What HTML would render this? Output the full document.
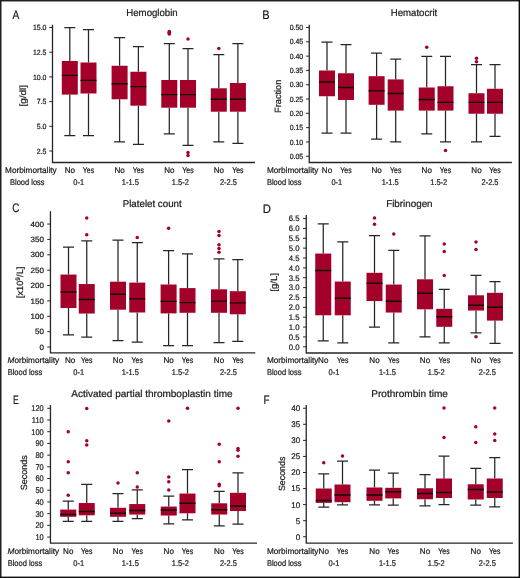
<!DOCTYPE html>
<html><head><meta charset="utf-8"><style>
html,body{margin:0;padding:0;background:#fff;}
svg{display:block;will-change:transform;}
text{font-family:"Liberation Sans", sans-serif;fill:#1a1a1a;stroke:#1a1a1a;stroke-width:0.22px;text-rendering:geometricPrecision;}
</style></head><body>
<svg width="520" height="578" viewBox="0 0 520 578">
<rect x="0" y="0" width="520" height="578" fill="#fff"/>
<g><text x="12.6" y="19" font-size="12.3" textLength="6.81" lengthAdjust="spacingAndGlyphs">A</text><text x="126.3" y="16" font-size="9.9" textLength="51.4" lengthAdjust="spacingAndGlyphs">Hemoglobin</text><g transform="translate(0 0)"><path d="M52.5 24.7V162.5H255" fill="none" stroke="#262626" stroke-width="1.3"/><text x="46.5" y="30.12" font-size="7.5" text-anchor="end" textLength="13.58" lengthAdjust="spacingAndGlyphs">15.0</text><text x="46.5" y="54.83" font-size="7.5" text-anchor="end" textLength="13.58" lengthAdjust="spacingAndGlyphs">12.5</text><text x="46.5" y="79.53" font-size="7.5" text-anchor="end" textLength="13.58" lengthAdjust="spacingAndGlyphs">10.0</text><text x="46.5" y="104.22" font-size="7.5" text-anchor="end" textLength="9.7" lengthAdjust="spacingAndGlyphs">7.5</text><text x="46.5" y="128.93" font-size="7.5" text-anchor="end" textLength="9.7" lengthAdjust="spacingAndGlyphs">5.0</text><text x="46.5" y="153.62" font-size="7.5" text-anchor="end" textLength="9.7" lengthAdjust="spacingAndGlyphs">2.5</text><path d="M49.3 27.5H52.5M49.3 52.2H52.5M49.3 76.9H52.5M49.3 101.6H52.5M49.3 126.3H52.5M49.3 151H52.5" stroke="#262626" stroke-width="1"/><text transform="translate(25.9 95.7) rotate(-90)" x="-10.8" y="0" font-size="9" textLength="21.6" lengthAdjust="spacingAndGlyphs">[g/dl]</text><path d="M69.8 27.5V61M69.8 94.6V135.6M64.3 27.5H75.3M64.3 135.6H75.3M88.5 29.5V62.5M88.5 93.5V135.6M83 29.5H94M83 135.6H94M119.6 37.5V65.75M119.6 99.3V141.9M114.1 37.5H125.1M114.1 141.9H125.1M138.4 46.5V71.75M138.4 105.7V144.4M132.9 46.5H143.9M132.9 144.4H143.9M169.3 43.6V80M169.3 107.7V133.8M163.8 43.6H174.8M163.8 133.8H174.8M188 48.5V80M188 107.7V145.4M182.5 48.5H193.5M182.5 145.4H193.5M218.8 54.6V88.3M218.8 111.7V141.9M213.3 54.6H224.3M213.3 141.9H224.3M237.9 43.7V83M237.9 111.7V143.3M232.4 43.7H243.4M232.4 143.3H243.4" fill="none" stroke="#262626" stroke-width="1.25"/><rect x="61.8" y="61" width="16" height="33.6" fill="#a3002a"/><rect x="80.5" y="62.5" width="16" height="31" fill="#a3002a"/><rect x="111.6" y="65.75" width="16" height="33.55" fill="#a3002a"/><rect x="130.4" y="71.75" width="16" height="33.95" fill="#a3002a"/><rect x="161.3" y="80" width="16" height="27.7" fill="#a3002a"/><rect x="180" y="80" width="16" height="27.7" fill="#a3002a"/><rect x="210.8" y="88.3" width="16" height="23.4" fill="#a3002a"/><rect x="229.9" y="83" width="16" height="28.7" fill="#a3002a"/><path d="M61.8 75.4H77.8M80.5 80.4H96.5M111.6 83.75H127.6M130.4 86.6H146.4M161.3 94.6H177.3M180 94.6H196M210.8 99.2H226.8M229.9 99.2H245.9" stroke="#120808" stroke-width="1.4"/><circle cx="169.3" cy="31.4" r="1.75" fill="#a3002a"/><circle cx="169.3" cy="32.3" r="1.75" fill="#a3002a"/><circle cx="169.3" cy="33.2" r="1.75" fill="#a3002a"/><circle cx="169.3" cy="34" r="1.75" fill="#a3002a"/><circle cx="188" cy="38.9" r="1.75" fill="#a3002a"/><circle cx="188" cy="152.6" r="1.75" fill="#a3002a"/><circle cx="188" cy="155.6" r="1.75" fill="#a3002a"/><circle cx="218.8" cy="48.5" r="1.75" fill="#a3002a"/></g><text x="5.1" y="173.1" font-size="8.3" textLength="51.5" lengthAdjust="spacingAndGlyphs">Morbimortality</text><text x="10" y="185" font-size="8.3" textLength="34.6" lengthAdjust="spacingAndGlyphs">Blood loss</text><text x="69.8" y="173.1" font-size="8.3" text-anchor="middle" textLength="10.3" lengthAdjust="spacingAndGlyphs">No</text><text x="88.5" y="173.1" font-size="8.3" text-anchor="middle" textLength="11.3" lengthAdjust="spacingAndGlyphs">Yes</text><text x="119.6" y="173.1" font-size="8.3" text-anchor="middle" textLength="10.3" lengthAdjust="spacingAndGlyphs">No</text><text x="138.4" y="173.1" font-size="8.3" text-anchor="middle" textLength="11.3" lengthAdjust="spacingAndGlyphs">Yes</text><text x="169.3" y="173.1" font-size="8.3" text-anchor="middle" textLength="10.3" lengthAdjust="spacingAndGlyphs">No</text><text x="188" y="173.1" font-size="8.3" text-anchor="middle" textLength="11.3" lengthAdjust="spacingAndGlyphs">Yes</text><text x="218.8" y="173.1" font-size="8.3" text-anchor="middle" textLength="10.3" lengthAdjust="spacingAndGlyphs">No</text><text x="237.9" y="173.1" font-size="8.3" text-anchor="middle" textLength="11.3" lengthAdjust="spacingAndGlyphs">Yes</text><text x="78.75" y="185" font-size="8.3" text-anchor="middle" textLength="10.8" lengthAdjust="spacingAndGlyphs">0-1</text><text x="130.35" y="185" font-size="8.3" text-anchor="middle" textLength="17" lengthAdjust="spacingAndGlyphs">1-1.5</text><text x="180.3" y="185" font-size="8.3" text-anchor="middle" textLength="17" lengthAdjust="spacingAndGlyphs">1.5-2</text><text x="228.45" y="185" font-size="8.3" text-anchor="middle" textLength="17" lengthAdjust="spacingAndGlyphs">2-2.5</text></g>
<g><text x="262.3" y="19" font-size="12.3" textLength="7.38" lengthAdjust="spacingAndGlyphs">B</text><text x="390.8" y="16" font-size="9.9" textLength="46.4" lengthAdjust="spacingAndGlyphs">Hematocrit</text><g transform="translate(0 0)"><path d="M309.25 24.7V162.5H511.9" fill="none" stroke="#262626" stroke-width="1.3"/><text x="303.25" y="30.12" font-size="7.5" text-anchor="end" textLength="13.58" lengthAdjust="spacingAndGlyphs">0.50</text><text x="303.25" y="44.43" font-size="7.5" text-anchor="end" textLength="13.58" lengthAdjust="spacingAndGlyphs">0.45</text><text x="303.25" y="58.74" font-size="7.5" text-anchor="end" textLength="13.58" lengthAdjust="spacingAndGlyphs">0.40</text><text x="303.25" y="73.04" font-size="7.5" text-anchor="end" textLength="13.58" lengthAdjust="spacingAndGlyphs">0.35</text><text x="303.25" y="87.35" font-size="7.5" text-anchor="end" textLength="13.58" lengthAdjust="spacingAndGlyphs">0.30</text><text x="303.25" y="101.65" font-size="7.5" text-anchor="end" textLength="13.58" lengthAdjust="spacingAndGlyphs">0.25</text><text x="303.25" y="115.96" font-size="7.5" text-anchor="end" textLength="13.58" lengthAdjust="spacingAndGlyphs">0.20</text><text x="303.25" y="130.26" font-size="7.5" text-anchor="end" textLength="13.58" lengthAdjust="spacingAndGlyphs">0.15</text><text x="303.25" y="144.57" font-size="7.5" text-anchor="end" textLength="13.58" lengthAdjust="spacingAndGlyphs">0.10</text><text x="303.25" y="158.88" font-size="7.5" text-anchor="end" textLength="13.58" lengthAdjust="spacingAndGlyphs">0.05</text><path d="M306.05 27.5H309.25M306.05 41.81H309.25M306.05 56.11H309.25M306.05 70.42H309.25M306.05 84.72H309.25M306.05 99.03H309.25M306.05 113.33H309.25M306.05 127.64H309.25M306.05 141.94H309.25M306.05 156.25H309.25" stroke="#262626" stroke-width="1"/><text transform="translate(281.4 96.3) rotate(-90)" x="-16.65" y="0" font-size="9" textLength="33.3" lengthAdjust="spacingAndGlyphs">Fraction</text><path d="M327 42V70.5M327 96.25V133M321.5 42H332.5M321.5 133H332.5M346 44.5V73.25M346 100V133M340.5 44.5H351.5M340.5 133H351.5M376.6 53V76.2M376.6 104.8V139M371.1 53H382.1M371.1 139H382.1M395.7 59V79.4M395.7 110.6V141.8M390.2 59H401.2M390.2 141.8H401.2M426.75 56.25V87.5M426.75 110.6V133.75M421.25 56.25H432.25M421.25 133.75H432.25M445.5 56.25V86.25M445.5 110.6V141.75M440 56.25H451M440 141.75H451M476.5 64.5V93.25M476.5 113.75V141.75M471 64.5H482M471 141.75H482M495 64.5V88.75M495 113.75V136.25M489.5 64.5H500.5M489.5 136.25H500.5" fill="none" stroke="#262626" stroke-width="1.25"/><rect x="319" y="70.5" width="16" height="25.75" fill="#a3002a"/><rect x="338" y="73.25" width="16" height="26.75" fill="#a3002a"/><rect x="368.6" y="76.2" width="16" height="28.6" fill="#a3002a"/><rect x="387.7" y="79.4" width="16" height="31.2" fill="#a3002a"/><rect x="418.75" y="87.5" width="16" height="23.1" fill="#a3002a"/><rect x="437.5" y="86.25" width="16" height="24.35" fill="#a3002a"/><rect x="468.5" y="93.25" width="16" height="20.5" fill="#a3002a"/><rect x="487" y="88.75" width="16" height="25" fill="#a3002a"/><path d="M319 82H335M338 87.5H354M368.6 90.9H384.6M387.7 93.5H403.7M418.75 99.5H434.75M437.5 102.4H453.5M468.5 102.4H484.5M487 102.4H503" stroke="#120808" stroke-width="1.4"/><circle cx="426.75" cy="47.25" r="1.75" fill="#a3002a"/><circle cx="445.5" cy="150.5" r="1.75" fill="#a3002a"/><circle cx="476.5" cy="58.3" r="1.75" fill="#a3002a"/><circle cx="476.5" cy="61.7" r="1.75" fill="#a3002a"/></g><text x="266.9" y="173.1" font-size="8.3" textLength="51.5" lengthAdjust="spacingAndGlyphs">Morbimortality</text><text x="266.9" y="185" font-size="8.3" textLength="34.6" lengthAdjust="spacingAndGlyphs">Blood loss</text><text x="327" y="173.1" font-size="8.3" text-anchor="middle" textLength="10.3" lengthAdjust="spacingAndGlyphs">No</text><text x="346" y="173.1" font-size="8.3" text-anchor="middle" textLength="11.3" lengthAdjust="spacingAndGlyphs">Yes</text><text x="376.6" y="173.1" font-size="8.3" text-anchor="middle" textLength="10.3" lengthAdjust="spacingAndGlyphs">No</text><text x="395.7" y="173.1" font-size="8.3" text-anchor="middle" textLength="11.3" lengthAdjust="spacingAndGlyphs">Yes</text><text x="426.75" y="173.1" font-size="8.3" text-anchor="middle" textLength="10.3" lengthAdjust="spacingAndGlyphs">No</text><text x="445.5" y="173.1" font-size="8.3" text-anchor="middle" textLength="11.3" lengthAdjust="spacingAndGlyphs">Yes</text><text x="476.5" y="173.1" font-size="8.3" text-anchor="middle" textLength="10.3" lengthAdjust="spacingAndGlyphs">No</text><text x="495" y="173.1" font-size="8.3" text-anchor="middle" textLength="11.3" lengthAdjust="spacingAndGlyphs">Yes</text><text x="336.8" y="185" font-size="8.3" text-anchor="middle" textLength="10.8" lengthAdjust="spacingAndGlyphs">0-1</text><text x="390.2" y="185" font-size="8.3" text-anchor="middle" textLength="17" lengthAdjust="spacingAndGlyphs">1-1.5</text><text x="438.75" y="185" font-size="8.3" text-anchor="middle" textLength="17" lengthAdjust="spacingAndGlyphs">1.5-2</text><text x="490" y="185" font-size="8.3" text-anchor="middle" textLength="17" lengthAdjust="spacingAndGlyphs">2-2.5</text></g>
<g><text x="12.2" y="212" font-size="12.3" textLength="7.11" lengthAdjust="spacingAndGlyphs">C</text><text x="122.7" y="207.1" font-size="9.9" textLength="59" lengthAdjust="spacingAndGlyphs">Platelet count</text><g transform="translate(0 0.3)"><path d="M50.45 210.9V352.6H255.3" fill="none" stroke="#262626" stroke-width="1.3"/><text x="44.05" y="226.44" font-size="7.7" text-anchor="end" textLength="13.49" lengthAdjust="spacingAndGlyphs">400</text><text x="44.05" y="241.82" font-size="7.7" text-anchor="end" textLength="13.49" lengthAdjust="spacingAndGlyphs">350</text><text x="44.05" y="257.19" font-size="7.7" text-anchor="end" textLength="13.49" lengthAdjust="spacingAndGlyphs">300</text><text x="44.05" y="272.57" font-size="7.7" text-anchor="end" textLength="13.49" lengthAdjust="spacingAndGlyphs">250</text><text x="44.05" y="287.94" font-size="7.7" text-anchor="end" textLength="13.49" lengthAdjust="spacingAndGlyphs">200</text><text x="44.05" y="303.32" font-size="7.7" text-anchor="end" textLength="13.49" lengthAdjust="spacingAndGlyphs">150</text><text x="44.05" y="318.69" font-size="7.7" text-anchor="end" textLength="13.49" lengthAdjust="spacingAndGlyphs">100</text><text x="44.05" y="334.07" font-size="7.7" text-anchor="end" textLength="8.99" lengthAdjust="spacingAndGlyphs">50</text><text x="44.05" y="349.44" font-size="7.7" text-anchor="end" textLength="4.5" lengthAdjust="spacingAndGlyphs">0</text><path d="M47.25 223.75H50.45M47.25 239.12H50.45M47.25 254.5H50.45M47.25 269.88H50.45M47.25 285.25H50.45M47.25 300.62H50.45M47.25 316H50.45M47.25 331.38H50.45M47.25 346.75H50.45" stroke="#262626" stroke-width="1"/><text transform="translate(23 282.1) rotate(-90)" x="-15.8" y="0" font-size="9" textLength="31.6" lengthAdjust="spacingAndGlyphs">[x10<tspan dy="-3" font-size="6.4">9</tspan><tspan dy="3">/L]</tspan></text><path d="M68.5 246.75V274.25M68.5 307.75V334.5M63 246.75H74M63 334.5H74M86.75 240.5V283.75M86.75 313.25V336.75M81.25 240.5H92.25M81.25 336.75H92.25M118 239.75V281.4M118 309.4V340.25M112.5 239.75H123.5M112.5 340.25H123.5M137.25 242.25V282.3M137.25 312.2V341.7M131.75 242.25H142.75M131.75 341.7H142.75M168.6 250.25V284.2M168.6 313.1V345.4M163.1 250.25H174.1M163.1 345.4H174.1M187.5 253.5V287.8M187.5 312.5V345.4M182 253.5H193M182 345.4H193M219 258.5V289M219 312.5V342.3M213.5 258.5H224.5M213.5 342.3H224.5M237.8 259.25V290.9M237.8 314V341M232.3 259.25H243.3M232.3 341H243.3" fill="none" stroke="#262626" stroke-width="1.25"/><rect x="60.5" y="274.25" width="16" height="33.5" fill="#a3002a"/><rect x="78.75" y="283.75" width="16" height="29.5" fill="#a3002a"/><rect x="110" y="281.4" width="16" height="28" fill="#a3002a"/><rect x="129.25" y="282.3" width="16" height="29.9" fill="#a3002a"/><rect x="160.6" y="284.2" width="16" height="28.9" fill="#a3002a"/><rect x="179.5" y="287.8" width="16" height="24.7" fill="#a3002a"/><rect x="211" y="289" width="16" height="23.5" fill="#a3002a"/><rect x="229.8" y="290.9" width="16" height="23.1" fill="#a3002a"/><path d="M60.5 291.75H76.5M78.75 299.25H94.75M110 294H126M129.25 298.6H145.25M160.6 301.1H176.6M179.5 302.3H195.5M211 300.8H227M229.8 302.6H245.8" stroke="#120808" stroke-width="1.4"/><circle cx="86.75" cy="217.75" r="1.75" fill="#a3002a"/><circle cx="86.75" cy="234.5" r="1.75" fill="#a3002a"/><circle cx="137.25" cy="237.25" r="1.75" fill="#a3002a"/><circle cx="168.6" cy="228" r="1.75" fill="#a3002a"/><circle cx="219" cy="231.25" r="1.75" fill="#a3002a"/><circle cx="219" cy="235.25" r="1.75" fill="#a3002a"/><circle cx="219" cy="244.5" r="1.75" fill="#a3002a"/><circle cx="219" cy="248.25" r="1.75" fill="#a3002a"/><circle cx="219" cy="252" r="1.75" fill="#a3002a"/></g><text x="7.6" y="363.1" font-size="8.3" textLength="51.5" lengthAdjust="spacingAndGlyphs"><tspan font-style="italic">M</tspan>orbimortality</text><text x="7.7" y="375.4" font-size="8.3" textLength="34.6" lengthAdjust="spacingAndGlyphs">Blood loss</text><text x="70.2" y="363.1" font-size="8.3" text-anchor="middle" textLength="10.3" lengthAdjust="spacingAndGlyphs">No</text><text x="86.75" y="363.1" font-size="8.3" text-anchor="middle" textLength="11.3" lengthAdjust="spacingAndGlyphs">Yes</text><text x="118" y="363.1" font-size="8.3" text-anchor="middle" textLength="10.3" lengthAdjust="spacingAndGlyphs">No</text><text x="137.25" y="363.1" font-size="8.3" text-anchor="middle" textLength="11.3" lengthAdjust="spacingAndGlyphs">Yes</text><text x="168.6" y="363.1" font-size="8.3" text-anchor="middle" textLength="10.3" lengthAdjust="spacingAndGlyphs">No</text><text x="187.5" y="363.1" font-size="8.3" text-anchor="middle" textLength="11.3" lengthAdjust="spacingAndGlyphs">Yes</text><text x="219" y="363.1" font-size="8.3" text-anchor="middle" textLength="10.3" lengthAdjust="spacingAndGlyphs">No</text><text x="237.8" y="363.1" font-size="8.3" text-anchor="middle" textLength="11.3" lengthAdjust="spacingAndGlyphs">Yes</text><text x="78.75" y="375.4" font-size="8.3" text-anchor="middle" textLength="10.8" lengthAdjust="spacingAndGlyphs">0-1</text><text x="130.35" y="375.4" font-size="8.3" text-anchor="middle" textLength="17" lengthAdjust="spacingAndGlyphs">1-1.5</text><text x="180.3" y="375.4" font-size="8.3" text-anchor="middle" textLength="17" lengthAdjust="spacingAndGlyphs">1.5-2</text><text x="228.45" y="375.4" font-size="8.3" text-anchor="middle" textLength="17" lengthAdjust="spacingAndGlyphs">2-2.5</text></g>
<g><text x="262.7" y="213" font-size="12.3" textLength="8.17" lengthAdjust="spacingAndGlyphs">D</text><text x="386.2" y="207" font-size="9.9" textLength="46.4" lengthAdjust="spacingAndGlyphs">Fibrinogen</text><g transform="translate(0 0.3)"><path d="M306.25 214.7V352.7H512.9" fill="none" stroke="#262626" stroke-width="1.3"/><text x="299.45" y="221.05" font-size="8" text-anchor="end" textLength="10.79" lengthAdjust="spacingAndGlyphs">6.5</text><text x="299.45" y="230.92" font-size="8" text-anchor="end" textLength="10.79" lengthAdjust="spacingAndGlyphs">6.0</text><text x="299.45" y="240.78" font-size="8" text-anchor="end" textLength="10.79" lengthAdjust="spacingAndGlyphs">5.5</text><text x="299.45" y="250.65" font-size="8" text-anchor="end" textLength="10.79" lengthAdjust="spacingAndGlyphs">5.0</text><text x="299.45" y="260.51" font-size="8" text-anchor="end" textLength="10.79" lengthAdjust="spacingAndGlyphs">4.5</text><text x="299.45" y="270.38" font-size="8" text-anchor="end" textLength="10.79" lengthAdjust="spacingAndGlyphs">4.0</text><text x="299.45" y="280.24" font-size="8" text-anchor="end" textLength="10.79" lengthAdjust="spacingAndGlyphs">3.5</text><text x="299.45" y="290.11" font-size="8" text-anchor="end" textLength="10.79" lengthAdjust="spacingAndGlyphs">3.0</text><text x="299.45" y="299.97" font-size="8" text-anchor="end" textLength="10.79" lengthAdjust="spacingAndGlyphs">2.5</text><text x="299.45" y="309.84" font-size="8" text-anchor="end" textLength="10.79" lengthAdjust="spacingAndGlyphs">2.0</text><text x="299.45" y="319.7" font-size="8" text-anchor="end" textLength="10.79" lengthAdjust="spacingAndGlyphs">1.5</text><text x="299.45" y="329.57" font-size="8" text-anchor="end" textLength="10.79" lengthAdjust="spacingAndGlyphs">1.0</text><text x="299.45" y="339.43" font-size="8" text-anchor="end" textLength="10.79" lengthAdjust="spacingAndGlyphs">0.5</text><text x="299.45" y="349.3" font-size="8" text-anchor="end" textLength="10.79" lengthAdjust="spacingAndGlyphs">0.0</text><path d="M303.05 218.25H306.25M303.05 228.12H306.25M303.05 237.98H306.25M303.05 247.85H306.25M303.05 257.71H306.25M303.05 267.58H306.25M303.05 277.44H306.25M303.05 287.31H306.25M303.05 297.17H306.25M303.05 307.04H306.25M303.05 316.9H306.25M303.05 326.77H306.25M303.05 336.63H306.25M303.05 346.5H306.25" stroke="#262626" stroke-width="1"/><text transform="translate(277.1 282.05) rotate(-90)" x="-9.2" y="0" font-size="9" textLength="18.4" lengthAdjust="spacingAndGlyphs">[g/L]</text><path d="M323.25 223.5V253.25M323.25 315V340.5M317.75 223.5H328.75M317.75 340.5H328.75M342.75 241.5V281.25M342.75 315V342.5M337.25 241.5H348.25M337.25 342.5H348.25M374.5 235.25V272.5M374.5 300.75V326.75M369 235.25H380M369 326.75H380M393.75 250V284.25M393.75 312.25V342.5M388.25 250H399.25M388.25 342.5H399.25M425 235.5V279M425 309V336.5M419.5 235.5H430.5M419.5 336.5H430.5M444.25 289V308.5M444.25 326.5V342.5M438.75 289H449.75M438.75 342.5H449.75M476 275V295M476 310.25V332.5M470.5 275H481.5M470.5 332.5H481.5M495 281.25V292.5M495 320.3V343M489.5 281.25H500.5M489.5 343H500.5" fill="none" stroke="#262626" stroke-width="1.25"/><rect x="315.25" y="253.25" width="16" height="61.75" fill="#a3002a"/><rect x="334.75" y="281.25" width="16" height="33.75" fill="#a3002a"/><rect x="366.5" y="272.5" width="16" height="28.25" fill="#a3002a"/><rect x="385.75" y="284.25" width="16" height="28" fill="#a3002a"/><rect x="417" y="279" width="16" height="30" fill="#a3002a"/><rect x="436.25" y="308.5" width="16" height="18" fill="#a3002a"/><rect x="468" y="295" width="16" height="15.25" fill="#a3002a"/><rect x="487" y="292.5" width="16" height="27.8" fill="#a3002a"/><path d="M315.25 270.25H331.25M334.75 298H350.75M366.5 283H382.5M385.75 301H401.75M417 293H433M436.25 316.5H452.25M468 305H484M487 306.9H503" stroke="#120808" stroke-width="1.4"/><circle cx="374.5" cy="217.75" r="1.75" fill="#a3002a"/><circle cx="374.5" cy="224" r="1.75" fill="#a3002a"/><circle cx="393.75" cy="233.75" r="1.75" fill="#a3002a"/><circle cx="444.25" cy="243.75" r="1.75" fill="#a3002a"/><circle cx="444.25" cy="251.25" r="1.75" fill="#a3002a"/><circle cx="444.25" cy="275.25" r="1.75" fill="#a3002a"/><circle cx="476" cy="241.75" r="1.75" fill="#a3002a"/><circle cx="476" cy="249.25" r="1.75" fill="#a3002a"/><circle cx="476" cy="336.5" r="1.75" fill="#a3002a"/></g><text x="266.9" y="363.1" font-size="8.3" textLength="51.5" lengthAdjust="spacingAndGlyphs">Morbimortality</text><text x="266.9" y="375.4" font-size="8.3" textLength="34.6" lengthAdjust="spacingAndGlyphs">Blood loss</text><text x="323.25" y="363.1" font-size="8.3" text-anchor="middle" textLength="10.3" lengthAdjust="spacingAndGlyphs">No</text><text x="342.75" y="363.1" font-size="8.3" text-anchor="middle" textLength="11.3" lengthAdjust="spacingAndGlyphs">Yes</text><text x="374.5" y="363.1" font-size="8.3" text-anchor="middle" textLength="10.3" lengthAdjust="spacingAndGlyphs">No</text><text x="393.75" y="363.1" font-size="8.3" text-anchor="middle" textLength="11.3" lengthAdjust="spacingAndGlyphs">Yes</text><text x="425" y="363.1" font-size="8.3" text-anchor="middle" textLength="10.3" lengthAdjust="spacingAndGlyphs">No</text><text x="444.25" y="363.1" font-size="8.3" text-anchor="middle" textLength="11.3" lengthAdjust="spacingAndGlyphs">Yes</text><text x="476" y="363.1" font-size="8.3" text-anchor="middle" textLength="10.3" lengthAdjust="spacingAndGlyphs">No</text><text x="495" y="363.1" font-size="8.3" text-anchor="middle" textLength="11.3" lengthAdjust="spacingAndGlyphs">Yes</text><text x="334" y="375.4" font-size="8.3" text-anchor="middle" textLength="10.8" lengthAdjust="spacingAndGlyphs">0-1</text><text x="387.4" y="375.4" font-size="8.3" text-anchor="middle" textLength="17" lengthAdjust="spacingAndGlyphs">1-1.5</text><text x="436.25" y="375.4" font-size="8.3" text-anchor="middle" textLength="17" lengthAdjust="spacingAndGlyphs">1.5-2</text><text x="487.3" y="375.4" font-size="8.3" text-anchor="middle" textLength="17" lengthAdjust="spacingAndGlyphs">2-2.5</text></g>
<g><text x="12.9" y="404" font-size="12.3" textLength="5.74" lengthAdjust="spacingAndGlyphs">E</text><text x="71.25" y="397.1" font-size="9.9" textLength="161.3" lengthAdjust="spacingAndGlyphs">Activated partial thromboplastin time</text><g transform="translate(0 0.3)"><path d="M50.45 404.7V542.9H257" fill="none" stroke="#262626" stroke-width="1.3"/><text x="43.75" y="410.9" font-size="8.3" text-anchor="end" textLength="12.46" lengthAdjust="spacingAndGlyphs">120</text><text x="43.75" y="422.61" font-size="8.3" text-anchor="end" textLength="11.91" lengthAdjust="spacingAndGlyphs">110</text><text x="43.75" y="434.31" font-size="8.3" text-anchor="end" textLength="12.46" lengthAdjust="spacingAndGlyphs">100</text><text x="43.75" y="446.02" font-size="8.3" text-anchor="end" textLength="8.31" lengthAdjust="spacingAndGlyphs">90</text><text x="43.75" y="457.72" font-size="8.3" text-anchor="end" textLength="8.31" lengthAdjust="spacingAndGlyphs">80</text><text x="43.75" y="469.43" font-size="8.3" text-anchor="end" textLength="8.31" lengthAdjust="spacingAndGlyphs">70</text><text x="43.75" y="481.13" font-size="8.3" text-anchor="end" textLength="8.31" lengthAdjust="spacingAndGlyphs">60</text><text x="43.75" y="492.84" font-size="8.3" text-anchor="end" textLength="8.31" lengthAdjust="spacingAndGlyphs">50</text><text x="43.75" y="504.54" font-size="8.3" text-anchor="end" textLength="8.31" lengthAdjust="spacingAndGlyphs">40</text><text x="43.75" y="516.25" font-size="8.3" text-anchor="end" textLength="8.31" lengthAdjust="spacingAndGlyphs">30</text><text x="43.75" y="527.95" font-size="8.3" text-anchor="end" textLength="8.31" lengthAdjust="spacingAndGlyphs">20</text><text x="43.75" y="539.65" font-size="8.3" text-anchor="end" textLength="8.31" lengthAdjust="spacingAndGlyphs">10</text><path d="M47.25 408H50.45M47.25 419.7H50.45M47.25 431.41H50.45M47.25 443.11H50.45M47.25 454.82H50.45M47.25 466.52H50.45M47.25 478.23H50.45M47.25 489.93H50.45M47.25 501.64H50.45M47.25 513.34H50.45M47.25 525.05H50.45M47.25 536.75H50.45" stroke="#262626" stroke-width="1"/><text transform="translate(27 472.45) rotate(-90)" x="-17.4" y="0" font-size="9" textLength="34.8" lengthAdjust="spacingAndGlyphs">Seconds</text><path d="M68.25 500.75V509.25M68.25 516.5V521M62.75 500.75H73.75M62.75 521H73.75M86.75 484V502.75M86.75 515V521M81.25 484H92.25M81.25 521H92.25M118 493.25V507.5M118 516.5V521M112.5 493.25H123.5M112.5 521H123.5M137.25 489.5V503.75M137.25 514.25V518.25M131.75 489.5H142.75M131.75 518.25H142.75M168.75 495.75V506.25M168.75 515.25V523.5M163.25 495.75H174.25M163.25 523.5H174.25M187.5 469.25V493.25M187.5 513V519.5M182 469.25H193M182 519.5H193M219.25 491V503M219.25 514.25V525.5M213.75 491H224.75M213.75 525.5H224.75M238 472.5V492.5M238 510.75V523.75M232.5 472.5H243.5M232.5 523.75H243.5" fill="none" stroke="#262626" stroke-width="1.25"/><rect x="60.25" y="509.25" width="16" height="7.25" fill="#a3002a"/><rect x="78.75" y="502.75" width="16" height="12.25" fill="#a3002a"/><rect x="110" y="507.5" width="16" height="9" fill="#a3002a"/><rect x="129.25" y="503.75" width="16" height="10.5" fill="#a3002a"/><rect x="160.75" y="506.25" width="16" height="9" fill="#a3002a"/><rect x="179.5" y="493.25" width="16" height="19.75" fill="#a3002a"/><rect x="211.25" y="503" width="16" height="11.25" fill="#a3002a"/><rect x="230" y="492.5" width="16" height="18.25" fill="#a3002a"/><path d="M60.25 514.25H76.25M78.75 511.25H94.75M110 513H126M129.25 510.25H145.25M160.75 509.75H176.75M179.5 503H195.5M211.25 509.5H227.25M230 505.75H246" stroke="#120808" stroke-width="1.4"/><circle cx="68.25" cy="431.5" r="1.75" fill="#a3002a"/><circle cx="68.25" cy="461.5" r="1.75" fill="#a3002a"/><circle cx="68.25" cy="472.5" r="1.75" fill="#a3002a"/><circle cx="68.25" cy="495" r="1.75" fill="#a3002a"/><circle cx="86.75" cy="408.25" r="1.75" fill="#a3002a"/><circle cx="86.75" cy="440.5" r="1.75" fill="#a3002a"/><circle cx="86.75" cy="444.75" r="1.75" fill="#a3002a"/><circle cx="118" cy="482.75" r="1.75" fill="#a3002a"/><circle cx="137.25" cy="472.5" r="1.75" fill="#a3002a"/><circle cx="137.25" cy="486.75" r="1.75" fill="#a3002a"/><circle cx="168.75" cy="420.75" r="1.75" fill="#a3002a"/><circle cx="168.75" cy="476.75" r="1.75" fill="#a3002a"/><circle cx="168.75" cy="481.5" r="1.75" fill="#a3002a"/><circle cx="168.75" cy="489.75" r="1.75" fill="#a3002a"/><circle cx="187.5" cy="408" r="1.75" fill="#a3002a"/><circle cx="219.25" cy="444" r="1.75" fill="#a3002a"/><circle cx="219.25" cy="461.5" r="1.75" fill="#a3002a"/><circle cx="219.25" cy="484" r="1.75" fill="#a3002a"/><circle cx="219.25" cy="485.5" r="1.75" fill="#a3002a"/><circle cx="238" cy="408" r="1.75" fill="#a3002a"/><circle cx="238" cy="448.25" r="1.75" fill="#a3002a"/><circle cx="238" cy="450" r="1.75" fill="#a3002a"/><circle cx="238" cy="456" r="1.75" fill="#a3002a"/></g><text x="7.6" y="553.5" font-size="8.3" textLength="51.5" lengthAdjust="spacingAndGlyphs"><tspan font-style="italic">M</tspan>orbimortality</text><text x="7.7" y="565.7" font-size="8.3" textLength="34.6" lengthAdjust="spacingAndGlyphs">Blood loss</text><text x="68.25" y="553.5" font-size="8.3" text-anchor="middle" textLength="10.3" lengthAdjust="spacingAndGlyphs">No</text><text x="86.75" y="553.5" font-size="8.3" text-anchor="middle" textLength="11.3" lengthAdjust="spacingAndGlyphs">Yes</text><text x="118" y="553.5" font-size="8.3" text-anchor="middle" textLength="10.3" lengthAdjust="spacingAndGlyphs">No</text><text x="137.25" y="553.5" font-size="8.3" text-anchor="middle" textLength="11.3" lengthAdjust="spacingAndGlyphs">Yes</text><text x="168.75" y="553.5" font-size="8.3" text-anchor="middle" textLength="10.3" lengthAdjust="spacingAndGlyphs">No</text><text x="187.5" y="553.5" font-size="8.3" text-anchor="middle" textLength="11.3" lengthAdjust="spacingAndGlyphs">Yes</text><text x="219.25" y="553.5" font-size="8.3" text-anchor="middle" textLength="10.3" lengthAdjust="spacingAndGlyphs">No</text><text x="238" y="553.5" font-size="8.3" text-anchor="middle" textLength="11.3" lengthAdjust="spacingAndGlyphs">Yes</text><text x="78.75" y="565.7" font-size="8.3" text-anchor="middle" textLength="10.8" lengthAdjust="spacingAndGlyphs">0-1</text><text x="130.35" y="565.7" font-size="8.3" text-anchor="middle" textLength="17" lengthAdjust="spacingAndGlyphs">1-1.5</text><text x="180.3" y="565.7" font-size="8.3" text-anchor="middle" textLength="17" lengthAdjust="spacingAndGlyphs">1.5-2</text><text x="228.45" y="565.7" font-size="8.3" text-anchor="middle" textLength="17" lengthAdjust="spacingAndGlyphs">2-2.5</text></g>
<g><text x="263.5" y="404" font-size="12.3" textLength="6.01" lengthAdjust="spacingAndGlyphs">F</text><text x="371.23" y="397.1" font-size="9.9" textLength="76.75" lengthAdjust="spacingAndGlyphs">Prothrombin time</text><g transform="translate(0 0)"><path d="M306.25 405V543.2H512.9" fill="none" stroke="#262626" stroke-width="1.3"/><text x="300.25" y="411.12" font-size="8.2" text-anchor="end" textLength="8.94" lengthAdjust="spacingAndGlyphs">40</text><text x="300.25" y="427.18" font-size="8.2" text-anchor="end" textLength="8.94" lengthAdjust="spacingAndGlyphs">35</text><text x="300.25" y="443.25" font-size="8.2" text-anchor="end" textLength="8.94" lengthAdjust="spacingAndGlyphs">30</text><text x="300.25" y="459.31" font-size="8.2" text-anchor="end" textLength="8.94" lengthAdjust="spacingAndGlyphs">25</text><text x="300.25" y="475.37" font-size="8.2" text-anchor="end" textLength="8.94" lengthAdjust="spacingAndGlyphs">20</text><text x="300.25" y="491.43" font-size="8.2" text-anchor="end" textLength="8.94" lengthAdjust="spacingAndGlyphs">15</text><text x="300.25" y="507.5" font-size="8.2" text-anchor="end" textLength="8.94" lengthAdjust="spacingAndGlyphs">10</text><text x="300.25" y="523.56" font-size="8.2" text-anchor="end" textLength="4.47" lengthAdjust="spacingAndGlyphs">5</text><text x="300.25" y="539.62" font-size="8.2" text-anchor="end" textLength="4.47" lengthAdjust="spacingAndGlyphs">0</text><path d="M303.05 408.25H306.25M303.05 424.31H306.25M303.05 440.38H306.25M303.05 456.44H306.25M303.05 472.5H306.25M303.05 488.56H306.25M303.05 504.62H306.25M303.05 520.69H306.25M303.05 536.75H306.25" stroke="#262626" stroke-width="1"/><text transform="translate(284.6 473.85) rotate(-90)" x="-17.25" y="0" font-size="9" textLength="34.5" lengthAdjust="spacingAndGlyphs">Seconds</text><path d="M323.75 473.75V488.5M323.75 502.9V507M318.25 473.75H329.25M318.25 507H329.25M342.5 461V484.5M342.5 502.2V504.75M337 461H348M337 504.75H348M374.5 470.2V487.5M374.5 500.8V504.75M369 470.2H380M369 504.75H380M393.25 473V487.8M393.25 498.4V505M387.75 473H398.75M387.75 505H398.75M425 474.5V488.25M425 499.25V505.75M419.5 474.5H430.5M419.5 505.75H430.5M444 456V478.5M444 498V504.5M438.5 456H449.5M438.5 504.5H449.5M475.75 468.25V484.25M475.75 499.5V505M470.25 468.25H481.25M470.25 505H481.25M494.75 457.5V478.5M494.75 498V506.75M489.25 457.5H500.25M489.25 506.75H500.25" fill="none" stroke="#262626" stroke-width="1.25"/><rect x="315.75" y="488.5" width="16" height="14.4" fill="#a3002a"/><rect x="334.5" y="484.5" width="16" height="17.7" fill="#a3002a"/><rect x="366.5" y="487.5" width="16" height="13.3" fill="#a3002a"/><rect x="385.25" y="487.8" width="16" height="10.6" fill="#a3002a"/><rect x="417" y="488.25" width="16" height="11" fill="#a3002a"/><rect x="436" y="478.5" width="16" height="19.5" fill="#a3002a"/><rect x="467.75" y="484.25" width="16" height="15.25" fill="#a3002a"/><rect x="486.75" y="478.5" width="16" height="19.5" fill="#a3002a"/><path d="M315.75 500.5H331.75M334.5 495H350.5M366.5 495H382.5M385.25 491.75H401.25M417 493.5H433M436 492.5H452M467.75 489.5H483.75M486.75 492H502.75" stroke="#120808" stroke-width="1.4"/><circle cx="323.75" cy="462.75" r="1.75" fill="#a3002a"/><circle cx="342.5" cy="456" r="1.75" fill="#a3002a"/><circle cx="444" cy="408" r="1.75" fill="#a3002a"/><circle cx="444" cy="437.5" r="1.75" fill="#a3002a"/><circle cx="475.75" cy="426.75" r="1.75" fill="#a3002a"/><circle cx="475.75" cy="442.5" r="1.75" fill="#a3002a"/><circle cx="494.75" cy="408" r="1.75" fill="#a3002a"/><circle cx="494.75" cy="434" r="1.75" fill="#a3002a"/><circle cx="494.75" cy="440.5" r="1.75" fill="#a3002a"/></g><text x="266.9" y="553.5" font-size="8.3" textLength="51.5" lengthAdjust="spacingAndGlyphs">Morbimortality</text><text x="266.9" y="565.7" font-size="8.3" textLength="34.6" lengthAdjust="spacingAndGlyphs">Blood loss</text><text x="323.75" y="553.5" font-size="8.3" text-anchor="middle" textLength="10.3" lengthAdjust="spacingAndGlyphs">No</text><text x="342.5" y="553.5" font-size="8.3" text-anchor="middle" textLength="11.3" lengthAdjust="spacingAndGlyphs">Yes</text><text x="374.5" y="553.5" font-size="8.3" text-anchor="middle" textLength="10.3" lengthAdjust="spacingAndGlyphs">No</text><text x="393.25" y="553.5" font-size="8.3" text-anchor="middle" textLength="11.3" lengthAdjust="spacingAndGlyphs">Yes</text><text x="425" y="553.5" font-size="8.3" text-anchor="middle" textLength="10.3" lengthAdjust="spacingAndGlyphs">No</text><text x="444" y="553.5" font-size="8.3" text-anchor="middle" textLength="11.3" lengthAdjust="spacingAndGlyphs">Yes</text><text x="475.75" y="553.5" font-size="8.3" text-anchor="middle" textLength="10.3" lengthAdjust="spacingAndGlyphs">No</text><text x="494.75" y="553.5" font-size="8.3" text-anchor="middle" textLength="11.3" lengthAdjust="spacingAndGlyphs">Yes</text><text x="334" y="565.7" font-size="8.3" text-anchor="middle" textLength="10.8" lengthAdjust="spacingAndGlyphs">0-1</text><text x="387.4" y="565.7" font-size="8.3" text-anchor="middle" textLength="17" lengthAdjust="spacingAndGlyphs">1-1.5</text><text x="436.25" y="565.7" font-size="8.3" text-anchor="middle" textLength="17" lengthAdjust="spacingAndGlyphs">1.5-2</text><text x="487.3" y="565.7" font-size="8.3" text-anchor="middle" textLength="17" lengthAdjust="spacingAndGlyphs">2-2.5</text></g>
<rect x="0" y="0" width="520" height="1.45" fill="#1e1e1e"/><rect x="0" y="0" width="1.5" height="578" fill="#1e1e1e"/><rect x="518.6" y="0" width="1.4" height="578" fill="#0e0e0e"/><rect x="0" y="576.6" width="520" height="1.4" fill="#0e0e0e"/>
</svg>
</body></html>
